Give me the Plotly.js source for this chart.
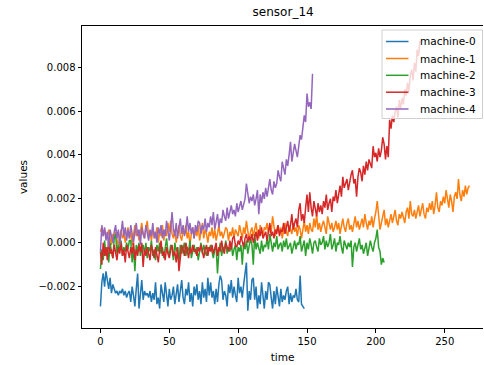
<!DOCTYPE html>
<html>
<head>
<meta charset="utf-8">
<script src="https://cdn.plot.ly/plotly-3.0.1.min.js"></script>
<style>html,body{margin:0;padding:0;background:#fff;}#chart{width:484px;height:365px;}</style>
</head>
<body>
<div id="chart"></div>
<script>
const seriesNames = ["machine-0", "machine-1", "machine-2", "machine-3", "machine-4"];
const seriesColors = ["#1f77b4", "#ff7f0e", "#2ca02c", "#d62728", "#9467bd"];

const machine0 = [
-29e-4,-18e-4,-14e-4,-20e-4,-13e-4,-17e-4,-21e-4,-16e-4,-23e-4,-19e-4,
-21e-4,-23e-4,-22e-4,-24e-4,-22e-4,-23e-4,-21e-4,-24e-4,-22e-4,-25e-4,
-23e-4,-22e-4,-27e-4,-20e-4,-24e-4,-29e-4,-21e-4,-14e-4,-30e-4,-24e-4,
-17e-4,-26e-4,-22e-4,-24e-4,-23e-4,-25e-4,-22e-4,-27e-4,-23e-4,-26e-4,
-18e-4,-28e-4,-25e-4,-30e-4,-19e-4,-23e-4,-27e-4,-18e-4,-25e-4,-29e-4,
-21e-4,-26e-4,-24e-4,-20e-4,-28e-4,-22e-4,-19e-4,-27e-4,-23e-4,-17e-4,
-25e-4,-28e-4,-21e-4,-24e-4,-18e-4,-27e-4,-23e-4,-29e-4,-20e-4,-24e-4,
-19e-4,-26e-4,-22e-4,-28e-4,-18e-4,-25e-4,-21e-4,-27e-4,-16e-4,-24e-4,
-18e-4,-25e-4,-22e-4,-28e-4,-21e-4,-27e-4,-19e-4,-15e-4,-17e-4,-26e-4,
-22e-4,-24e-4,-29e-4,-19e-4,-23e-4,-17e-4,-25e-4,-20e-4,-24e-4,-27e-4,
-16e-4,-23e-4,-20e-4,-25e-4,-19e-4,-14e-4,-9e-4,-31e-4,-22e-4,-26e-4,
-17e-4,-16e-4,-26e-4,-20e-4,-30e-4,-24e-4,-28e-4,-18e-4,-23e-4,-30e-4,
-22e-4,-26e-4,-18e-4,-19e-4,-25e-4,-30e-4,-22e-4,-28e-4,-20e-4,-25e-4,
-29e-4,-21e-4,-27e-4,-24e-4,-26e-4,-22e-4,-20e-4,-28e-4,-23e-4,-27e-4,
-24e-4,-25e-4,-21e-4,-26e-4,-27e-4,-15e-4,-28e-4,-29e-4,-30e-4
];

const machine1 = [
5e-4,7e-4,3e-4,6e-4,4e-4,2e-4,6e-4,3e-4,-1e-4,4e-4,
2e-4,5e-4,1e-4,-2e-4,3e-4,6e-4,2e-4,4e-4,0,3e-4,
7e-4,2e-4,5e-4,-1e-4,4e-4,8e-4,3e-4,6e-4,1e-4,5e-4,
9e-4,4e-4,2e-4,7e-4,10e-4,3e-4,5e-4,1e-4,6e-4,4e-4,
2e-4,7e-4,0,5e-4,3e-4,8e-4,1e-4,6e-4,3e-4,9e-4,
5e-4,10e-4,4e-4,2e-4,6e-4,0,5e-4,8e-4,3e-4,1e-4,
6e-4,4e-4,8e-4,2e-4,5e-4,-1e-4,4e-4,7e-4,2e-4,6e-4,
3e-4,8e-4,1e-4,5e-4,9e-4,2e-4,6e-4,4e-4,0,5e-4,
3e-4,7e-4,2e-4,6e-4,1e-4,4e-4,8e-4,3e-4,5e-4,2e-4,
4e-4,7e-4,6e-4,1e-4,5e-4,3e-4,7e-4,2e-4,6e-4,4e-4,
3e-4,8e-4,5e-4,2e-4,7e-4,4e-4,10e-4,6e-4,1e-4,5e-4,
7e-4,3e-4,6e-4,9e-4,4e-4,2e-4,8e-4,5e-4,3e-4,7e-4,
6e-4,9e-4,4e-4,8e-4,5e-4,12e-4,7e-4,3e-4,6e-4,8e-4,
4e-4,7e-4,2e-4,6e-4,9e-4,5e-4,3e-4,8e-4,6e-4,4e-4,
9e-4,5e-4,7e-4,3e-4,8e-4,6e-4,2e-4,7e-4,10e-4,5e-4,
8e-4,4e-4,9e-4,6e-4,5e-4,11e-4,7e-4,13e-4,6e-4,9e-4,
5e-4,8e-4,10e-4,7e-4,4e-4,12e-4,8e-4,6e-4,9e-4,5e-4,
7e-4,10e-4,6e-4,9e-4,4e-4,8e-4,11e-4,7e-4,5e-4,9e-4,
11e-4,6e-4,8e-4,5e-4,9e-4,12e-4,7e-4,10e-4,6e-4,8e-4,
11e-4,7e-4,13e-4,9e-4,6e-4,10e-4,8e-4,12e-4,7e-4,11e-4,
14e-4,19e-4,11e-4,6e-4,9e-4,12e-4,15e-4,8e-4,11e-4,7e-4,
10e-4,13e-4,9e-4,12e-4,15e-4,10e-4,8e-4,13e-4,11e-4,14e-4,
12e-4,9e-4,14e-4,16e-4,11e-4,19e-4,13e-4,12e-4,15e-4,11e-4,
14e-4,17e-4,12e-4,15e-4,18e-4,13e-4,11e-4,16e-4,14e-4,18e-4,
15e-4,19e-4,13e-4,17e-4,23e-4,16e-4,14e-4,19e-4,17e-4,21e-4,
18e-4,24e-4,20e-4,16e-4,22e-4,19e-4,14e-4,21e-4,23e-4,20e-4,
29e-4,22e-4,19e-4,24e-4,21e-4,26e-4,22e-4,25e-4,26e-4
];

const machine2 = [
-12e-4,-3e-4,-8e-4,1e-4,-6e-4,-2e-4,-9e-4,0,-4e-4,-7e-4,
2e-4,4e-4,-5e-4,-1e-4,-3e-4,1e-4,-6e-4,-2e-4,-4e-4,0,
-3e-4,1e-4,1e-4,-9e-4,-2e-4,-13e-4,-1e-4,-4e-4,0,-6e-4,
-3e-4,-1e-4,-5e-4,0,-7e-4,-2e-4,-4e-4,1e-4,-6e-4,-3e-4,
-8e-4,-1e-4,-4e-4,0,-5e-4,-2e-4,-7e-4,-3e-4,2e-4,-4e-4,
-6e-4,-1e-4,-3e-4,-8e-4,0,-4e-4,-2e-4,-9e-4,-1e-4,-5e-4,
-3e-4,0,-6e-4,-2e-4,-4e-4,1e-4,-7e-4,-3e-4,-1e-4,-5e-4,
-2e-4,-8e-4,-3e-4,0,-5e-4,-1e-4,-4e-4,-6e-4,-2e-4,-3e-4,
-1e-4,-5e-4,-7e-4,-3e-4,-2e-4,-14e-4,-4e-4,0,-6e-4,-2e-4,
-3e-4,1e-4,-5e-4,-2e-4,-4e-4,0,-6e-4,-3e-4,-1e-4,-8e-4,
-2e-4,-4e-4,-1e-4,-10e-4,0,-3e-4,1e-4,-5e-4,-2e-4,2e-4,
-1e-4,-10e-4,4e-4,-3e-4,0,-2e-4,-5e-4,1e-4,-4e-4,-1e-4,
-2e-4,2e-4,-3e-4,4e-4,-1e-4,-4e-4,0,-2e-4,3e-4,-3e-4,
-1e-4,0,-4e-4,1e-4,-2e-4,2e-4,-3e-4,-1e-4,0,-5e-4,
-2e-4,1e-4,-3e-4,0,-1e-4,3e-4,-4e-4,-2e-4,1e-4,-6e-4,
0,-3e-4,2e-4,-1e-4,-5e-4,0,1e-4,-2e-4,-4e-4,2e-4,
-1e-4,0,3e-4,-3e-4,1e-4,-2e-4,0,4e-4,-3e-4,-1e-4,
2e-4,-4e-4,0,-1e-4,3e-4,-2e-4,-5e-4,1e-4,-1e-4,-3e-4,
0,-2e-4,1e-4,-11e-4,-2e-4,0,-4e-4,-1e-4,2e-4,-3e-4,
-1e-4,-5e-4,-2e-4,0,-6e-4,-3e-4,1e-4,-2e-4,-4e-4,0,
2e-4,6e-4,-2e-4,-4e-4,-10e-4,-7e-4,-9e-4
];

const machine3 = [
-4e-4,-10e-4,0,-6e-4,-2e-4,-8e-4,2e-4,-5e-4,-3e-4,-7e-4,
-1e-4,-4e-4,-8e-4,-2e-4,-5e-4,0,-6e-4,-3e-4,-9e-4,-1e-4,
-4e-4,-7e-4,-2e-4,-5e-4,0,-8e-4,-3e-4,-6e-4,-1e-4,-4e-4,
0,-11e-4,-3e-4,-6e-4,-2e-4,-5e-4,-8e-4,-1e-4,-4e-4,-7e-4,
-2e-4,-5e-4,-9e-4,-3e-4,1e-4,-6e-4,-4e-4,-8e-4,-2e-4,-5e-4,
-7e-4,-3e-4,-1e-4,-6e-4,-4e-4,-9e-4,-2e-4,-13e-4,-5e-4,-1e-4,
-3e-4,-6e-4,0,-4e-4,-7e-4,-2e-4,-5e-4,-1e-4,-4e-4,-3e-4,
-6e-4,-2e-4,-4e-4,-1e-4,-5e-4,-7e-4,-3e-4,-1e-4,-6e-4,-2e-4,
-4e-4,-1e-4,-5e-4,-3e-4,0,-6e-4,-2e-4,-4e-4,1e-4,-3e-4,
-5e-4,0,-2e-4,-4e-4,1e-4,-3e-4,2e-4,3e-4,-1e-4,-2e-4,
1e-4,-1e-4,3e-4,0,-2e-4,2e-4,4e-4,0,3e-4,1e-4,
4e-4,0,2e-4,5e-4,1e-4,6e-4,3e-4,7e-4,2e-4,4e-4,
5e-4,1e-4,6e-4,9e-4,3e-4,5e-4,2e-4,6e-4,4e-4,8e-4,
3e-4,6e-4,5e-4,9e-4,4e-4,7e-4,10e-4,5e-4,8e-4,13e-4,
6e-4,9e-4,11e-4,7e-4,15e-4,18e-4,10e-4,13e-4,9e-4,16e-4,
22e-4,14e-4,23e-4,16e-4,12e-4,19e-4,15e-4,12e-4,18e-4,14e-4,
17e-4,13e-4,19e-4,16e-4,22e-4,15e-4,18e-4,20e-4,14e-4,21e-4,
19e-4,24e-4,18e-4,22e-4,26e-4,21e-4,30e-4,25e-4,27e-4,29e-4,
24e-4,28e-4,31e-4,33e-4,27e-4,29e-4,21e-4,30e-4,34e-4,32e-4,
28e-4,35e-4,31e-4,37e-4,33e-4,38e-4,36e-4,34e-4,44e-4,39e-4,
41e-4,37e-4,43e-4,39e-4,42e-4,48e-4,45e-4,38e-4,44e-4,39e-4,
56e-4,52e-4,58e-4,55e-4,60e-4,62e-4,57e-4,65e-4,61e-4,66e-4,
63e-4,70e-4,67e-4,73e-4,69e-4,76e-4,79e-4,74e-4,82e-4,78e-4,
88e-4,85e-4,92e-4
];

const machine4 = [
-4e-4,8e-4,3e-4,7e-4,1e-4,5e-4,-2e-4,6e-4,3e-4,0,
5e-4,8e-4,2e-4,6e-4,-1e-4,4e-4,10e-4,3e-4,7e-4,1e-4,
6e-4,2e-4,8e-4,4e-4,0,5e-4,9e-4,3e-4,6e-4,-1e-4,
7e-4,4e-4,2e-4,8e-4,5e-4,1e-4,6e-4,3e-4,9e-4,2e-4,
5e-4,0,7e-4,4e-4,8e-4,2e-4,6e-4,3e-4,10e-4,5e-4,
1e-4,7e-4,14e-4,6e-4,3e-4,9e-4,2e-4,7e-4,11e-4,4e-4,
8e-4,3e-4,6e-4,12e-4,5e-4,9e-4,4e-4,7e-4,2e-4,8e-4,
5e-4,10e-4,9e-4,4e-4,8e-4,6e-4,11e-4,5e-4,9e-4,7e-4,
12e-4,8e-4,14e-4,6e-4,10e-4,13e-4,7e-4,11e-4,9e-4,15e-4,
12e-4,10e-4,16e-4,11e-4,14e-4,17e-4,13e-4,15e-4,12e-4,18e-4,
14e-4,16e-4,19e-4,15e-4,17e-4,20e-4,27e-4,23e-4,18e-4,21e-4,
19e-4,22e-4,17e-4,20e-4,24e-4,13e-4,22e-4,18e-4,23e-4,20e-4,
25e-4,21e-4,26e-4,29e-4,24e-4,22e-4,28e-4,25e-4,27e-4,33e-4,
30e-4,28e-4,37e-4,34e-4,31e-4,38e-4,35e-4,40e-4,46e-4,37e-4,
41e-4,45e-4,42e-4,39e-4,44e-4,49e-4,47e-4,52e-4,58e-4,55e-4,
68e-4,62e-4,64e-4,61e-4,77e-4
];

const seriesValues = [machine0, machine1, machine2, machine3, machine4];
const xTickVals = [0, 50, 100, 150, 200, 250];
const yTickVals = [-0.002, 0, 0.002, 0.004, 0.006, 0.008];

const traces = seriesValues.map((vals, i) => ({
  type: "scatter",
  mode: "lines",
  name: seriesNames[i],
  y: vals,
  x0: 0,
  dx: 1,
  showlegend: false,
  line: {color: seriesColors[i], width: 1.5}
}));

const FONT = "DejaVu Sans, sans-serif";
const W = 484, H = 365;
const M = {l: 82, r: 1, t: 26, b: 37};
const PW = W - M.l - M.r, PH = H - M.t - M.b;
const px2x = p => (p - M.l) / PW;
const py2y = p => (H - M.b - p) / PH;

// legend drawn as shapes + text (matplotlib style box)
const shapes = [{
  type: "rect", xref: "paper", yref: "paper", layer: "above",
  x0: px2x(382), x1: px2x(482.5), y0: py2y(118.5), y1: py2y(30),
  fillcolor: "rgba(255,255,255,0.8)", line: {color: "#d0d0d0", width: 1}
}];
const annotations = [];
const rowY = [41.5, 58.5, 75.3, 92.2, 109];
seriesNames.forEach((name, i) => {
  shapes.push({
    type: "line", xref: "paper", yref: "paper", layer: "above",
    x0: px2x(386), x1: px2x(408.5), y0: py2y(rowY[i]), y1: py2y(rowY[i]),
    line: {color: seriesColors[i], width: 1.5}
  });
  annotations.push({
    xref: "paper", yref: "paper", x: px2x(417.5), y: py2y(rowY[i]),
    xanchor: "left", yanchor: "middle", showarrow: false,
    text: name, font: {family: FONT, size: 10.5, color: "#000"}
  });
});

const layout = {
  width: W, height: H,
  margin: M,
  paper_bgcolor: "#fff", plot_bgcolor: "#fff",
  font: {family: FONT, size: 10, color: "#000"},
  title: {text: "sensor_14", font: {family: FONT, size: 12, color: "#000"}, x: 0.585, xanchor: "center", y: 0.967, yanchor: "middle"},
  showlegend: false,
  shapes: shapes,
  annotations: annotations,
  xaxis: {
    range: [-13.4, 277.8],
    tickvals: xTickVals,
    ticktext: xTickVals.map(String),
    ticks: "outside", ticklen: 3.5, tickwidth: 1, tickcolor: "#000",
    showline: true, linecolor: "#000", linewidth: 1, mirror: true,
    showgrid: false, zeroline: false,
    tickfont: {family: FONT, size: 10, color: "#000"},
    title: {text: "time", font: {family: FONT, size: 10.5, color: "#000"}, standoff: 8}
  },
  yaxis: {
    range: [-0.003886, 0.009877],
    tickvals: yTickVals,
    tickformat: ".3f",
    ticks: "outside", ticklen: 3.5, tickwidth: 1, tickcolor: "#000",
    showline: true, linecolor: "#000", linewidth: 1, mirror: false,
    showgrid: false, zeroline: false,
    tickfont: {family: FONT, size: 10, color: "#000"},
    title: {text: "values", font: {family: FONT, size: 10.5, color: "#000"}, standoff: 8}
  }
};

Plotly.newPlot("chart", traces, layout, {displayModeBar: false, staticPlot: true});
</script>
</body>
</html>
